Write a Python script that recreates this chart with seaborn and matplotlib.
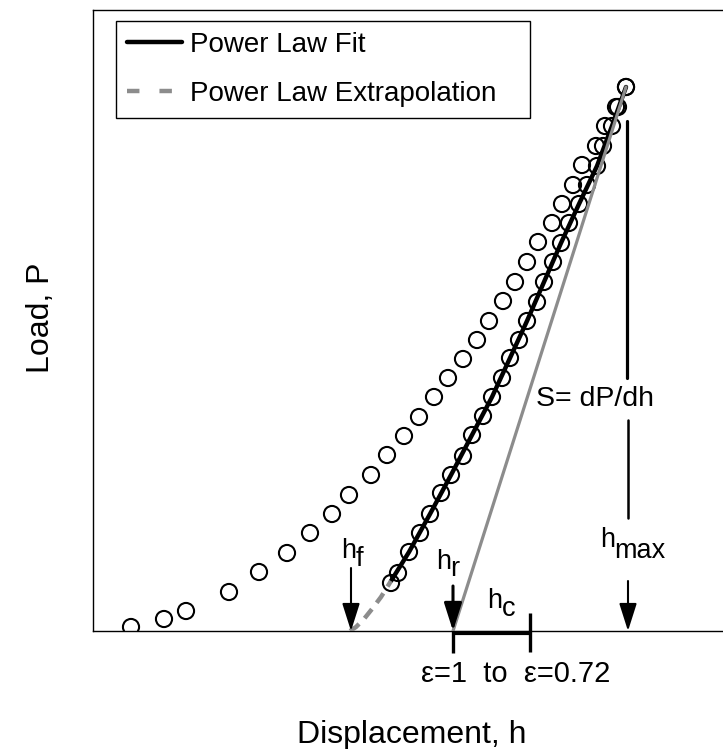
import matplotlib
matplotlib.use("Agg")
import matplotlib.pyplot as plt
from matplotlib.lines import Line2D
import seaborn as sns
import pandas as pd

# ---------------- data (arbitrary units) ----------------
load_h = [38, 71, 93, 136, 166, 194, 217, 239, 256, 278, 294, 311, 326, 341, 355,
          370, 384, 396, 410, 422, 434, 445, 459, 469, 480, 489, 503, 512, 523, 533]
load_P = [4, 12, 20, 39, 59, 78, 98, 117, 136, 156, 176, 195, 214, 234, 253,
          272, 291, 310, 330, 349, 369, 389, 408, 427, 446, 466, 485, 505, 524, 544]

unload_h = [298, 305, 316, 327, 337, 348, 358, 370, 379, 390, 399, 409, 417, 426,
            434, 444, 451, 460, 468, 476, 486, 494, 504, 510, 519, 525, 533]
unload_P = [48, 58, 79, 98, 117, 138, 156, 175, 196, 215, 234, 253, 273, 291,
            310, 329, 349, 369, 388, 408, 427, 446, 465, 485, 505, 524, 544]

fit_h = [298, 316, 337, 358, 379, 399, 417, 434, 451, 468, 486, 504, 519, 533]
fit_P = [50, 79, 117, 156, 196, 234, 273, 310, 349, 388, 427, 465, 505, 544]

extrap_h = [257, 263, 271, 279, 288, 298]
extrap_P = [0, 4, 12, 22, 34, 50]

tangent_h = [360, 533]
tangent_P = [0, 544]

h_f, h_r, h_c, h_max = 258, 360, 437, 535

legend_labels = ["Power Law Fit", "Power Law Extrapolation"]

# ---------------- styling ----------------
sns.set_theme(style="white")
plt.rcParams["font.family"] = ["Liberation Sans", "DejaVu Sans"]
plt.rcParams["text.color"] = "black"
plt.rcParams["axes.labelcolor"] = "black"
GRAY = "#8c8c8c"

fig = plt.figure(figsize=(7.23, 7.49), dpi=100)
W, H = 723, 749
ax = fig.add_axes([93 / W, 118 / H, 630 / W, 621 / H])
ax.set_xlim(0, 630)
ax.set_ylim(0, 621)

df_load = pd.DataFrame({"h": load_h, "P": load_P})
df_unload = pd.DataFrame({"h": unload_h, "P": unload_P})
df_fit = pd.DataFrame({"h": fit_h, "P": fit_P})
df_ext = pd.DataFrame({"h": extrap_h, "P": extrap_P})
df_tan = pd.DataFrame({"h": tangent_h, "P": tangent_P})

for d in (df_load, df_unload):
    sns.scatterplot(data=d, x="h", y="P", ax=ax, marker="o", s=135,
                    facecolor="none", edgecolor="black", linewidth=1.5,
                    zorder=3, legend=False)

sns.lineplot(data=df_fit, x="h", y="P", ax=ax, sort=False, estimator=None,
             color="black", linewidth=3.2, zorder=4, legend=False)
sns.lineplot(data=df_ext, x="h", y="P", ax=ax, sort=False, estimator=None,
             color=GRAY, linewidth=3.2, dashes=False, zorder=4, legend=False)
ax.lines[-1].set_dashes((2.6, 1.8))
sns.lineplot(data=df_tan, x="h", y="P", ax=ax, sort=False, estimator=None,
             color=GRAY, linewidth=2.3, zorder=5, legend=False)

# vertical h_max line with gap for the S label
ax.plot([h_max - 1, h_max - 1], [253, 510], color="black", lw=2.3, zorder=4)
ax.plot([h_max, h_max], [113, 211], color="black", lw=1.8, zorder=4)

# arrows
def down_arrow(x, y0, lw):
    ax.annotate("", xy=(x, 0), xytext=(x, y0), xycoords="data",
                arrowprops=dict(arrowstyle="-|>,head_length=0.85,head_width=0.27",
                                color="black", lw=lw, shrinkA=0, shrinkB=0,
                                mutation_scale=20),
                zorder=6, annotation_clip=False)

down_arrow(h_f, 63, 1.5)
down_arrow(h_r, 45, 2.2)
down_arrow(h_max, 50, 1.5)

# h_c bar below the axis
ax.plot([h_r, h_c], [-2.3, -2.3], color="black", lw=3.0, clip_on=False, zorder=6,
        solid_capstyle="butt")
ax.plot([h_r, h_r], [0, -22], color="black", lw=2.4, clip_on=False, zorder=6,
        solid_capstyle="butt")
ax.plot([h_c, h_c], [18, -21], color="black", lw=2.4, clip_on=False, zorder=6,
        solid_capstyle="butt")

# text labels
FS = 19.5
def hlabel(x, y, sub, sub_dx, sub_dy):
    ax.text(x, y, "h", fontsize=FS, ha="left", va="baseline", zorder=7)
    ax.text(x + sub_dx, y - sub_dy, sub, fontsize=FS, ha="left", va="baseline",
            zorder=7)

hlabel(248, 73, "f", 14.5, 8)
hlabel(343, 62, "r", 14.5, 7)
hlabel(394, 23, "c", 14.5, 8)
hlabel(507, 84, "max", 14.5, 11)

ax.text(502, 232, "S= dP/dh", fontsize=20.5, ha="center", va="center", zorder=7)
ax.text(328, -51, "\u03b5=1  to  \u03b5=0.72", fontsize=21, ha="left",
        va="baseline", clip_on=False)

# axis labels
ax.set_xlabel("Displacement, h", fontsize=23)
ax.xaxis.set_label_coords(0.5056, -0.1804)
ax.xaxis.label.set_verticalalignment("baseline")
ax.set_ylabel("Load, P", fontsize=23)
ax.yaxis.set_label_coords(-0.0587, 0.505)

ax.set_xticks([])
ax.set_yticks([])
for side in ("left", "bottom", "top"):
    ax.spines[side].set_color("black")
    ax.spines[side].set_linewidth(1.0)
ax.spines["right"].set_visible(False)

# legend
handles = [Line2D([], [], color="black", lw=3.2),
           Line2D([], [], color=GRAY, lw=3.2, dashes=(2.8, 4.5))]
leg = ax.legend(handles, legend_labels, loc="upper left",
                bbox_to_anchor=(116 / W, 1 - 21 / H, 414 / W, 0),
                bbox_transform=fig.transFigure, mode="expand",
                borderaxespad=0, fontsize=20, handlelength=2.0,
                handletextpad=0.3, labelspacing=0.85, borderpad=0.38,
                frameon=True, fancybox=False, framealpha=1, edgecolor="black")
leg.get_frame().set_linewidth(1.0)

fig.savefig("out.png", dpi=100)
